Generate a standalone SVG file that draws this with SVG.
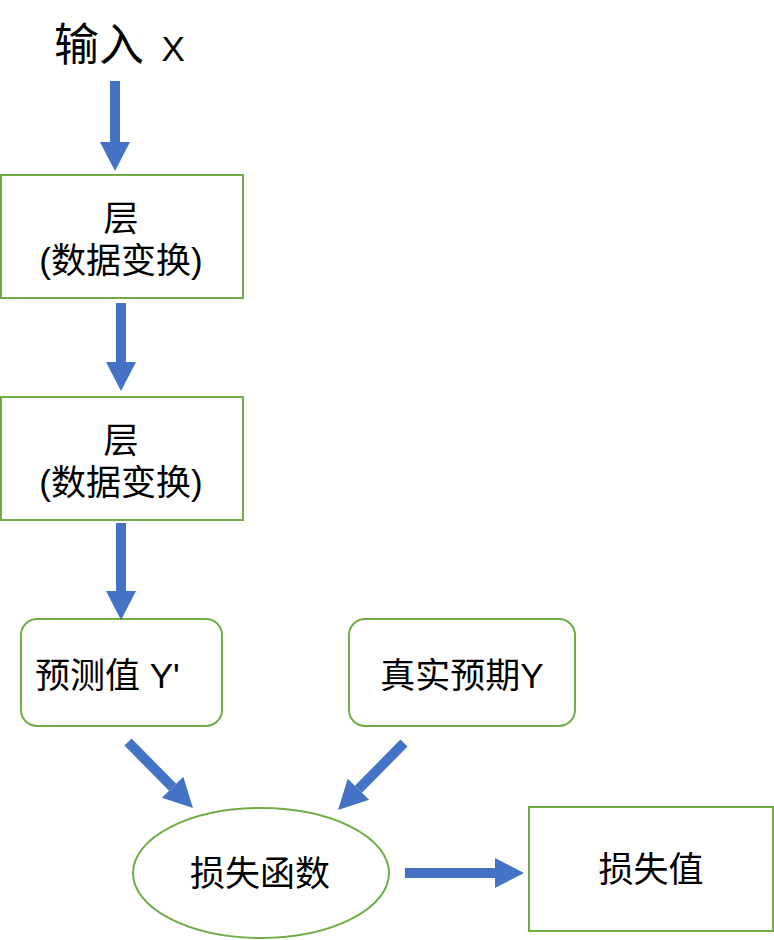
<svg xmlns="http://www.w3.org/2000/svg" width="774" height="940" viewBox="0 0 774 940">
<defs>
<style>
text{font-family:"Liberation Sans","Noto Sans CJK SC",sans-serif;fill:#000;text-anchor:middle}
.n{fill:#fff;stroke:#70AD47;stroke-width:2}
.c{stroke:#4472C4;stroke-width:10;fill:none}
.t{font-size:35px}
</style>
<marker id="ah" markerUnits="userSpaceOnUse" markerWidth="30" markerHeight="30" refX="0" refY="15" orient="auto" overflow="visible">
<path d="M0,0 L29,15 L0,30 z" fill="#4472C4"/>
</marker>
</defs>
<rect width="774" height="940" fill="#fff"/>
<g id="input"><text x="54" y="61" style="font-size:45px;text-anchor:start">输入 <tspan dx="5" style="font-size:35px">X</tspan></text></g>
<g id="layer1"><rect class="n" x="1" y="175" width="242" height="123"/><text class="t" x="121" y="231">层</text><text class="t" x="121" y="273">(数据变换)</text></g>
<g id="layer2"><rect class="n" x="1" y="397" width="242" height="123"/><text class="t" x="121" y="453">层</text><text class="t" x="121" y="495">(数据变换)</text></g>
<g id="pred"><rect class="n" x="21" y="619" width="201" height="107" rx="16"/><text class="t" x="35" y="688" style="text-anchor:start">预测值 Y'</text></g>
<g id="truth"><rect class="n" x="349" y="619" width="226" height="107" rx="16"/><text class="t" x="462" y="688">真实预期Y</text></g>
<g id="loss"><ellipse class="n" cx="261" cy="873" rx="128" ry="65"/><text class="t" x="260" y="886">损失函数</text></g>
<g id="lossval"><rect class="n" x="529" y="807" width="244" height="124"/><text class="t" x="651" y="882">损失值</text></g>
<g id="connectors">
<line class="c" x1="115" y1="81" x2="115" y2="142" marker-end="url(#ah)"/>
<line class="c" x1="121" y1="303" x2="121" y2="362" marker-end="url(#ah)"/>
<line class="c" x1="121" y1="523" x2="121" y2="591" marker-end="url(#ah)"/>
<line class="c" x1="128" y1="742" x2="172.6" y2="787.3" marker-end="url(#ah)"/>
<line class="c" x1="404" y1="743" x2="358.4" y2="789.3" marker-end="url(#ah)"/>
<line class="c" x1="405" y1="873" x2="495" y2="873" marker-end="url(#ah)"/>
</g>
</svg>
